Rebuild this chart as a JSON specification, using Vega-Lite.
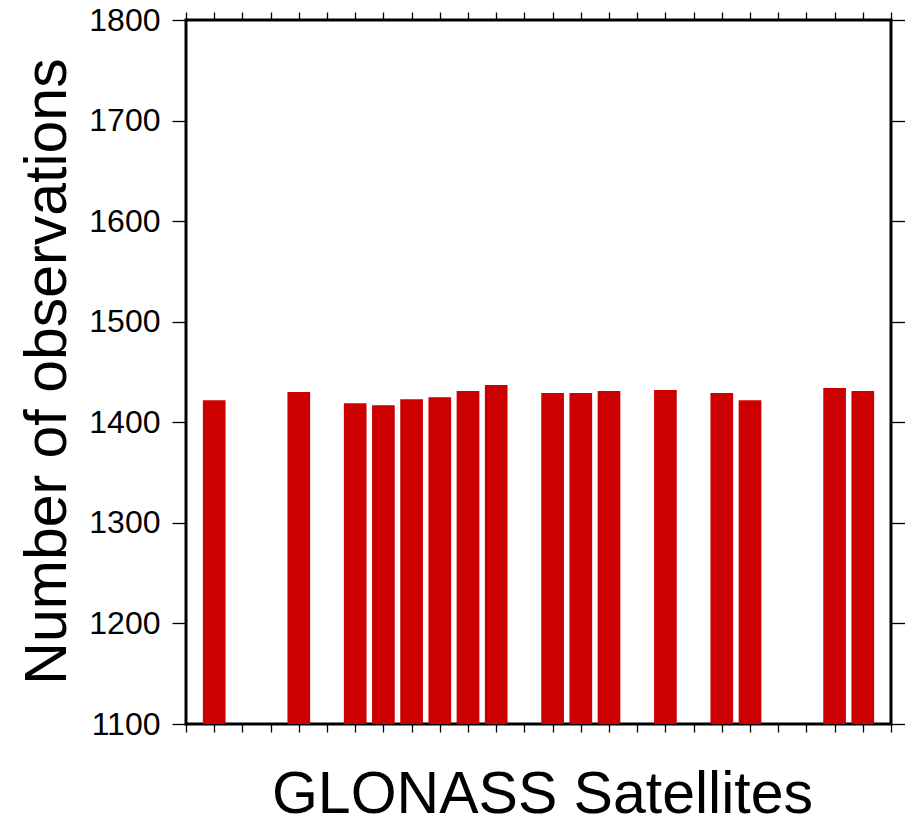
{
  "$schema": "https://vega.github.io/schema/vega-lite/v6.json",
  "width": 705,
  "height": 704,
  "autosize": {"type": "none"},
  "padding": {"left": 186, "top": 20, "right": 14, "bottom": 96},
  "background": "white",
  "config": {
    "view": {"stroke": "black", "strokeWidth": 3},
    "axis": {
      "domain": false,
      "grid": false,
      "tickColor": "black",
      "tickWidth": 1.3,
      "labelFont": "Liberation Sans",
      "titleFont": "Liberation Sans",
      "labelColor": "black",
      "titleColor": "black",
      "titleFontWeight": "normal"
    }
  },
  "data": {
    "values": [
      {"sat": 1, "obs": 1422},
      {"sat": 4, "obs": 1430},
      {"sat": 6, "obs": 1419},
      {"sat": 7, "obs": 1417},
      {"sat": 8, "obs": 1423},
      {"sat": 9, "obs": 1425},
      {"sat": 10, "obs": 1431},
      {"sat": 11, "obs": 1437},
      {"sat": 13, "obs": 1429},
      {"sat": 14, "obs": 1429},
      {"sat": 15, "obs": 1431},
      {"sat": 17, "obs": 1432},
      {"sat": 19, "obs": 1429},
      {"sat": 20, "obs": 1422},
      {"sat": 23, "obs": 1434},
      {"sat": 24, "obs": 1431}
    ]
  },
  "layer": [
    {
      "mark": {"type": "bar", "color": "#cc0000", "size": 22.7, "clip": true},
      "encoding": {
        "x": {
          "field": "sat",
          "type": "quantitative",
          "scale": {"domain": [0, 25], "nice": false, "zero": false, "padding": 0},
          "axis": {
            "orient": "bottom",
            "values": [0,1,2,3,4,5,6,7,8,9,10,11,12,13,14,15,16,17,18,19,20,21,22,23,24,25],
            "tickSize": 8,
            "labels": false,
            "title": "GLONASS Satellites",
            "titleFontSize": 59,
            "titleX": 356,
            "titleY": 88,
            "titleBaseline": "alphabetic",
            "titleAlign": "center"
          }
        },
        "y": {
          "field": "obs",
          "type": "quantitative",
          "scale": {"domain": [1100, 1800], "nice": false, "zero": false, "padding": 0},
          "axis": {
            "orient": "left",
            "values": [1100, 1200, 1300, 1400, 1500, 1600, 1700, 1800],
            "format": "d",
            "tickSize": 14,
            "labelFontSize": 32,
            "labelPadding": 12,
            "labelOverlap": false,
            "labelFlush": false,
            "title": "Number of observations",
            "titleFontSize": 59,
            "titleAngle": 270,
            "titleX": -121,
            "titleY": 351,
            "titleBaseline": "alphabetic",
            "titleAlign": "center"
          }
        }
      }
    },
    {
      "mark": {"type": "point", "opacity": 0},
      "encoding": {
        "x": {
          "field": "sat",
          "type": "quantitative",
          "scale": {"domain": [0, 25], "nice": false, "zero": false, "padding": 0},
          "axis": {
            "orient": "top",
            "values": [0,1,2,3,4,5,6,7,8,9,10,11,12,13,14,15,16,17,18,19,20,21,22,23,24,25],
            "tickSize": 8,
            "labels": false,
            "title": null
          }
        },
        "y": {
          "field": "obs",
          "type": "quantitative",
          "scale": {"domain": [1100, 1800], "nice": false, "zero": false, "padding": 0},
          "axis": {
            "orient": "right",
            "values": [1100, 1200, 1300, 1400, 1500, 1600, 1700, 1800],
            "tickSize": 14,
            "labels": false,
            "title": null
          }
        }
      }
    }
  ],
  "resolve": {"axis": {"x": "independent", "y": "independent"}}
}
